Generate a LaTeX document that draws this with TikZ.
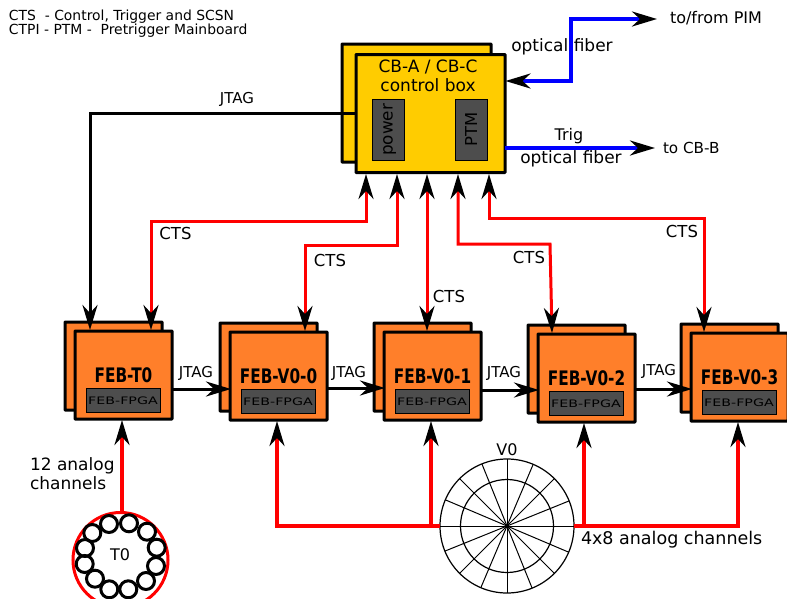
\documentclass[tikz,border=0pt]{standalone}
\usepackage{fontspec}
\setmainfont{DejaVu Sans}
\usetikzlibrary{arrows.meta}
\definecolor{cbyellow}{HTML}{FFCC00}
\definecolor{feborange}{HTML}{FF7F2A}
\definecolor{chipgray}{HTML}{4D4D4D}
\newcommand{\fs}[1]{\fontsize{#1}{#1}\selectfont}
\tikzset{
  x=1pt,y=-1pt,
  tipfig/.tip={Stealth[length=25pt,width=15pt,inset=8pt,color=black]},
  boxbase/.style={draw=black,line width=3pt,anchor=north west,inner sep=0pt,outer sep=0pt,rounded corners=0.6pt},
  cbbox/.style={boxbase,fill=cbyellow,minimum width=149pt,minimum height=118pt},
  febbox/.style={boxbase,fill=feborange,minimum width=97pt,minimum height=88pt},
  chipbox/.style={draw=black,line width=1pt,fill=chipgray,anchor=north west,inner sep=0pt,outer sep=0pt},
  slotbox/.style={chipbox,minimum width=31.5pt,minimum height=60.5pt},
  fpgabox/.style={chipbox,minimum width=74pt,minimum height=24pt,font=\fs{10.3}},
  lab/.style={inner sep=0pt,outer sep=0pt,font=\fs{16},text=black},
  leftlab/.style={lab,anchor=west},
  feblab/.style={inner sep=0pt,font=\fs{20}\bfseries},
  jtaglab/.style={lab,font=\fs{15}},
  ctslab/.style={lab,font=\fs{16.5}},
  jtagline/.style={draw=black,line width=3pt,-{tipfig}},
  ctsline/.style={draw=red,line width=3pt,{tipfig}-{tipfig}},
  sigline/.style={draw=red,line width=3.2pt,-{tipfig}},
  fiber/.style={draw=blue,line width=3.4pt},
  ring/.style={draw=black,line width=3pt,circle,minimum size=17pt,inner sep=0pt,outer sep=0pt,fill=none},
  spoke/.style={draw=black,line width=1pt},
}
\begin{document}
\begin{tikzpicture}
\useasboundingbox (0,0) rectangle (787,598);
\fill[white] (0,0) rectangle (787,598);
% legend
\node[leftlab,font=\fs{13.9}] (leg1) at (9,16.5) {CTS\ \ - Control, Trigger and SCSN};
\node[leftlab,font=\fs{13.9}] (leg2) at (9,30.5) {CTPI - PTM -\ \ Pretrigger Mainboard};
% control box
\node[cbbox] (cbback) at (342,44) {};
\node[cbbox] (cb) at (356,54.5) {};
\node[lab,font=\fs{17}] (cbt1) at (428,67) {CB-A / CB-C};
\node[lab,font=\fs{17}] (cbt2) at (428,85) {control box};
\node[slotbox] (power) at (372.5,99.5) {};
\node[slotbox] (ptm) at (455.5,99.5) {};
\node[lab,font=\fs{16.8},rotate=90] (powert) at ([xshift=1.5pt]power.center) {power};
\node[lab,font=\fs{16.4},rotate=90] (ptmt) at (ptm.center) {PTM};
% FEB boxes
\foreach \nm/\bx/\by/\fx/\fy/\txt in {
  t/65/322/75/331/FEB-T0,
  a/220/323/230/332/FEB-V0-0,
  b/374/323/384/332/FEB-V0-1,
  c/528/325/538/334/FEB-V0-2,
  d/681/324/691/333/FEB-V0-3}{
  \node[febbox] (\nm back) at (\bx,\by) {};
  \node[febbox] (\nm) at (\fx,\fy) {};
  \node[fpgabox] (\nm chip) at ([xshift=11pt,yshift=-57.5pt]\nm.north west) {\scalebox{1.38}[1]{FEB-FPGA}};
  \node[feblab] (\nm lab) at ([yshift=-44pt]\nm.north) {\scalebox{0.765}[1]{\txt}};
}
% T0 ring
\node[draw=red,line width=3pt,circle,minimum size=95pt,inner sep=0pt,outer sep=0pt] (tzero) at (120.5,560) {};
\foreach \i/\cx/\cy in {1/109/524,2/129/523.3,3/147/531.7,4/156.7/547.7,5/156/566,6/146/581,7/128.3/589.3,8/109.3/589.3,9/95/578.7,10/84.7/564,11/85/548,12/92.3/533}{
  \node[ring] (r\i) at (\cx,\cy) {};
}
\node[lab] (tzlab) at (120,555) {T0};
% V0 disc
\node[draw=black,line width=1.2pt,circle,minimum size=134pt,inner sep=0pt,outer sep=0pt] (vzero) at (507,526) {};
\node[draw=black,line width=1.2pt,circle,minimum size=93pt,inner sep=0pt,outer sep=0pt] (vinner) at (507,526) {};
\foreach \a in {0,22.5,...,337.5}{
  \draw[spoke] (vzero.center) -- (vzero.\a);
}
\node[lab] (vzlab) at (507,450) {V0};
% ports on the control box
\foreach \n/\dx in {1/10,2/41,3/71,4/102,5/133}{
  \coordinate (cbp\n) at ([xshift=\dx pt,yshift=-1.5pt]cb.south west);
}
% ports on the FEB boxes
\coordinate (tu) at ([xshift=76pt,yshift=1pt]t.north west);
\coordinate (au) at ([xshift=75pt,yshift=1pt]a.north west);
\coordinate (bu) at ([xshift=43pt,yshift=1pt]b.north west);
\coordinate (cu) at ([xshift=14pt,yshift=1pt]c.north west);
\coordinate (du) at ([xshift=13pt,yshift=1pt]d.north west);
\coordinate (jt) at ([xshift=15pt,yshift=1pt]t.north west);
\coordinate (tb) at ([xshift=47pt,yshift=-1pt]t.south west);
\coordinate (ab) at ([xshift=47pt,yshift=-1pt]a.south west);
\coordinate (bb) at ([xshift=47pt,yshift=-1pt]b.south west);
\coordinate (cb2) at ([xshift=46pt,yshift=-1pt]c.south west);
\coordinate (db) at ([xshift=47pt,yshift=-1pt]d.south west);
% CTS lines
\draw[ctsline] (cbp1) -- (cbp1 |- 0,221) -- (tu |- 0,221) -- (tu);
\draw[ctsline] (cbp2) -- (cbp2 |- 0,245) -- (au |- 0,245) -- (au);
\draw[ctsline] (cbp3) -- (bu);
\draw[ctsline] (cbp4) -- (cbp4 |- 0,244) -- (550,244) -- (cu);
\draw[ctsline] (cbp5) -- (cbp5 |- 0,218) -- (du |- 0,218) -- (du);
% JTAG lines
\draw[jtagline] (cb.west |- 0,113.5) -- (jt |- 0,113.5) -- (jt);
\draw[jtagline] (t.east |- 0,389) -- ([xshift=1pt]a.west |- 0,389);
\draw[jtagline] (a.east |- 0,388) -- ([xshift=1pt]b.west |- 0,388);
\draw[jtagline] (b.east |- 0,390) -- ([xshift=1pt]c.west |- 0,390);
\draw[jtagline] (c.east |- 0,389) -- ([xshift=1pt]d.west |- 0,389);
% analog lines
\draw[sigline] (tzero.north -| tb) -- (tb);
\draw[sigline] (vzero.west) -- (ab |- vzero.west) -- (ab);
\draw[sigline] (bb |- vzero.west) -- (bb);
\draw[sigline] (vzero.east) -- (db |- vzero.east) -- (db);
\draw[sigline] (cb2 |- vzero.east) -- (cb2);
% fibers
\coordinate (pim) at (657,19);
\coordinate (cbb) at (655,148);
\draw[fiber,{tipfig}-{tipfig}] ([xshift=0.5pt]cb.east |- 0,81) -- (571,81) -- (571,19) -- (pim);
\draw[fiber,-{tipfig}] (cb.east |- cbb) -- (cbb);
% labels
\node[jtaglab] (j0) at (237,99.5) {JTAG};
\node[jtaglab] (j1) at (196,373) {JTAG};
\node[jtaglab] (j2) at (349,373) {JTAG};
\node[jtaglab] (j3) at (504,373) {JTAG};
\node[jtaglab] (j4) at (659,371) {JTAG};
\node[ctslab] (c1) at (175.5,233) {CTS};
\node[ctslab] (c2) at (330,260) {CTS};
\node[ctslab] (c3) at (449,296) {CTS};
\node[ctslab] (c4) at (529,257) {CTS};
\node[ctslab] (c5) at (682,231) {CTS};
\node[lab,font=\fs{17}] (of1) at (562,47) {optical fiber};
\node[lab,font=\fs{17}] (of2) at (571,159) {optical fiber};
\node[lab] (trig) at (569,136) {Trig};
\node[leftlab] (pimt) at (670,18) {to/from PIM};
\node[leftlab,font=\fs{15.2}] (cbbt) at (663,147.5) {to CB-B};
\node[leftlab,font=\fs{17}] (an1) at (30,466) {12 analog};
\node[leftlab,font=\fs{17}] (an2) at (30,483) {channels};
\node[leftlab,font=\fs{17.5}] (an3) at (581,540) {4x8 analog channels};
\end{tikzpicture}
\end{document}
